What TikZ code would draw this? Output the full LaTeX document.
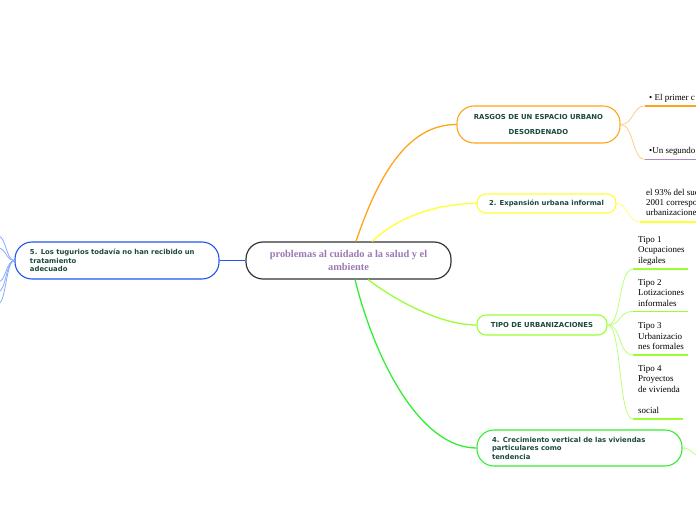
\documentclass[tikz,border=0pt]{standalone}
\usepackage{fontspec}
\setmainfont{Liberation Serif}[BoldFont={Liberation Serif Bold}]
\newfontfamily\vsans{DejaVu Sans}
\usetikzlibrary{calc}
\definecolor{txtgreen}{HTML}{1B4A3C}
\definecolor{cpurple}{HTML}{9B7AB3}
\definecolor{corange}{HTML}{FFA31A}
\definecolor{corangel}{HTML}{FFCC88}
\definecolor{cyellow}{HTML}{FFFF33}
\definecolor{cyellowl}{HTML}{FFFF77}
\definecolor{clgreen}{HTML}{99FF33}
\definecolor{clgreenl}{HTML}{BBFF77}
\definecolor{cgreen}{HTML}{33EE33}
\definecolor{cblue}{HTML}{2255EE}
\definecolor{cbluel}{HTML}{88AAFF}
\definecolor{cpurplel}{HTML}{AA88CC}
\begin{document}
\begin{tikzpicture}[x=1bp,y=-1bp,
  mbox/.style={draw, fill=white, inner sep=0pt, line width=1.1pt},
  big/.style={mbox, rounded corners=17bp, minimum height=37bp},
  small/.style={mbox, rounded corners=9bp},
  btext/.style={font=\vsans\bfseries\fontsize{6.9}{8.5}\selectfont, text=txtgreen},
  ctext/.style={font=\fontsize{9}{10.5}\selectfont, inner sep=0pt, anchor=north west, align=left},
  mainconn/.style={line width=1.3pt},
  subconn/.style={line width=0.8pt},
  uline/.style={line width=1.6pt}
]
\useasboundingbox (0,0) rectangle (696,520);
\clip (0,0) rectangle (696,520);

% nodes
\node[big, draw=black!80, line width=1.2pt, minimum width=205bp, align=center,
  font=\bfseries\fontsize{10.4}{12.6}\selectfont, text=cpurple] (c) at (348.5,260.5)
  {problemas al cuidado a la salud y el\\ambiente};
\node[big, draw=cblue, btext, text width=174bp, inner xsep=15bp, align=left] (n5) at (117,260.5)
  {5. Los tugurios todavía no han recibido un\\tratamiento\\adecuado};
\node[big, draw=corange, btext, minimum width=163bp, align=center] (r) at (538.5,124.5)
  {RASGOS DE UN ESPACIO URBANO\\[7.5bp]DESORDENADO};
\node[small, draw=cyellow, btext, minimum width=139bp, minimum height=19bp] (e) at (546.5,203.5)
  {2. Expansión urbana informal};
\node[small, draw=clgreen, btext, minimum width=130bp, minimum height=20bp] (t) at (542,325)
  {TIPO DE URBANIZACIONES};
\node[big, draw=cgreen, btext, text width=175bp, inner xsep=15bp, align=left, minimum height=36bp] (n4) at (579.5,448)
  {4. Crecimiento vertical de las viviendas\\particulares como\\tendencia};

% main connectors
\draw[mainconn, draw=corange] ($(c.north)+(7.5,0)$) .. controls (380,170) and (410,124.5) .. (r.west);
\draw[mainconn, draw=cyellow] ($(c.north)+(23.5,0)$) .. controls (400,215) and (440,203.5) .. (e.west);
\draw[mainconn, draw=clgreen] ($(c.south)+(19.5,0)$) .. controls (395,300) and (440,325) .. (t.west);
\draw[mainconn, draw=cgreen] ($(c.south)+(6.5,0)$) .. controls (375,360) and (420,448) .. (n4.west);
\draw[mainconn, draw=cblue] (n5.east) -- (c.west);

% left side branches of node 5
\foreach \yy/\nm in {236/a,248/b,282/c,292/d,304/e}{
  \coordinate (l\nm) at (-2,\yy);
  \draw[subconn, draw=cbluel] (n5.west) .. controls (6,260.5) and (6,\yy) .. (l\nm);
}

% right branch of node 4
\coordinate (n4out) at (698,456);
\draw[subconn, draw=clgreenl] (n4.east) .. controls (690,448) and (690,452) .. (n4out);

% RASGOS children
\coordinate (r1a) at (645,106); \coordinate (r1b) at (697,106);
\coordinate (r2a) at (645,159.5); \coordinate (r2b) at (697,159.5);
\draw[subconn, draw=corangel] (r.east) .. controls (634,124.5) and (632,106) .. (r1a);
\draw[subconn, draw=corangel] (r.east) .. controls (634,124.5) and (632,159.5) .. (r2a);
\draw[uline, draw=corange] (r1a) -- (r1b);
\draw[uline, draw=cpurplel] (r2a) -- (r2b);
\node[ctext] (r1t) at (649,94.5) {• El primer c};
\node[ctext] (r2t) at (649,147.5) {•Un segundo};

% Expansion child
\coordinate (e1a) at (640,222); \coordinate (e1b) at (697,222);
\draw[subconn, draw=cyellowl] (e.east) .. controls (628,203.5) and (628,222) .. (e1a);
\draw[uline, draw=cyellow] (e1a) -- (e1b);
\node[ctext, font=\fontsize{9}{10}\selectfont] (e1t) at (646,189) {el 93\% del sue\\2001 correspo\\urbanizacione};

% TIPO children
\coordinate (u1a) at (633,269); \coordinate (u1b) at (688,269);
\coordinate (u2a) at (633,311.5); \coordinate (u2b) at (688,311.5);
\coordinate (u3a) at (633,355); \coordinate (u3b) at (688,355);
\coordinate (u4a) at (633,419); \coordinate (u4b) at (683,419);
\draw[subconn, draw=clgreenl] (t.east) .. controls (622,325) and (618,269) .. (u1a);
\draw[subconn, draw=clgreenl] (t.east) .. controls (622,325) and (618,311.5) .. (u2a);
\draw[subconn, draw=clgreenl] (t.east) .. controls (622,325) and (618,355) .. (u3a);
\draw[subconn, draw=clgreenl] (t.east) .. controls (622,325) and (618,419) .. (u4a);
\foreach \k in {1,2,3,4}{ \draw[uline, draw=clgreen] (u\k a) -- (u\k b); }
\node[ctext] (t1) at (638,236) {Tipo 1\\Ocupaciones\\ilegales};
\node[ctext] (t2) at (638,279) {Tipo 2\\Lotizaciones\\informales};
\node[ctext] (t3) at (638,322.5) {Tipo 3\\Urbanizacio\\nes formales};
\node[ctext] (t4) at (638,365) {Tipo 4\\Proyectos\\de vivienda\\[10.5bp]social};
\end{tikzpicture}
\end{document}
